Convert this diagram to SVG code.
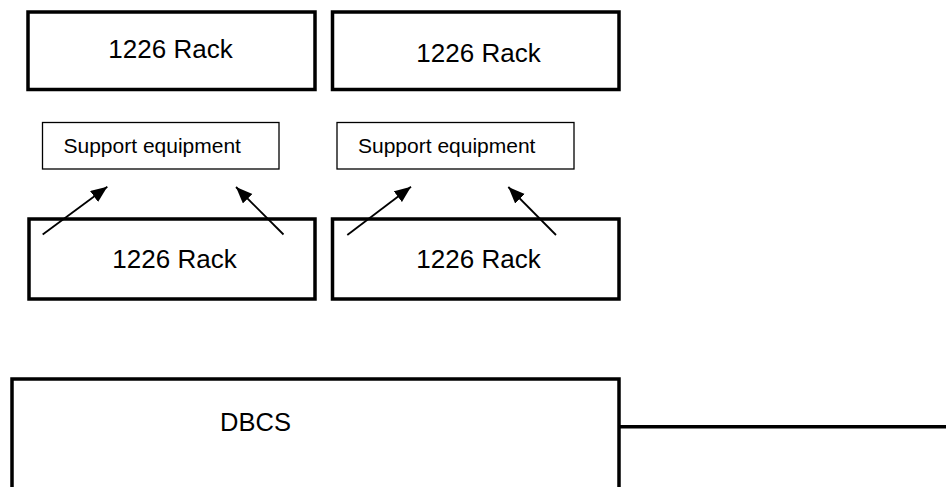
<svg xmlns="http://www.w3.org/2000/svg" width="946" height="487" viewBox="0 0 946 487">
  <style>
    .rack { fill: #fff; stroke: #000; stroke-width: 3.5; }
    .sup { fill: #fff; stroke: #000; stroke-width: 1.3; }
    .big { font-family: "Liberation Sans", Arial, sans-serif; font-size: 26px; fill: #000; text-anchor: middle; }
    .small { font-family: "Liberation Sans", Arial, sans-serif; font-size: 21px; fill: #000; }
    .arr { stroke: #000; stroke-width: 1.8; fill: none; marker-end: url(#ah); }
    .wire { stroke: #000; stroke-width: 3.5; fill: none; }
  </style>
  <defs>
    <marker id="ah" markerUnits="userSpaceOnUse" markerWidth="18" markerHeight="14" refX="16.5" refY="6.75" orient="auto">
      <path d="M0,0 L16.5,6.75 L0,13.5 z" fill="#000"/>
    </marker>
  </defs>
  <rect width="946" height="487" fill="#fff"/>

  <g id="rack1">
    <rect class="rack" x="28" y="12" width="287" height="77.5"/>
    <text class="big" x="170.5" y="58">1226 Rack</text>
  </g>
  <g id="rack2">
    <rect class="rack" x="332.5" y="12" width="286.5" height="77.5"/>
    <text class="big" x="478.5" y="62">1226 Rack</text>
  </g>
  <g id="support1">
    <rect class="sup" x="42.5" y="122.5" width="236.5" height="46.5"/>
    <text class="small" x="63.5" y="153">Support equipment</text>
  </g>
  <g id="support2">
    <rect class="sup" x="337" y="122.5" width="237" height="46.5"/>
    <text class="small" x="358" y="153">Support equipment</text>
  </g>
  <g id="rack3">
    <rect class="rack" x="29" y="219" width="286" height="80"/>
    <text class="big" x="174.5" y="268">1226 Rack</text>
  </g>
  <g id="rack4">
    <rect class="rack" x="332.5" y="219" width="286.5" height="80"/>
    <text class="big" x="478.5" y="268">1226 Rack</text>
  </g>
  <g id="dbcs">
    <rect class="rack" x="12" y="379" width="607" height="140"/>
    <text class="big" x="255.5" y="431" style="font-size:25.5px">DBCS</text>
  </g>

  <g id="connectors">
    <line class="arr" x1="42.7" y1="234.5" x2="107.3" y2="186.7"/>
    <line class="arr" x1="283.5" y1="234.5" x2="236" y2="187"/>
    <line class="arr" x1="347.3" y1="235" x2="411" y2="186.7"/>
    <line class="arr" x1="556" y1="235" x2="508.3" y2="187"/>
    <line class="wire" x1="619" y1="426.7" x2="946" y2="426.7"/>
  </g>
</svg>
